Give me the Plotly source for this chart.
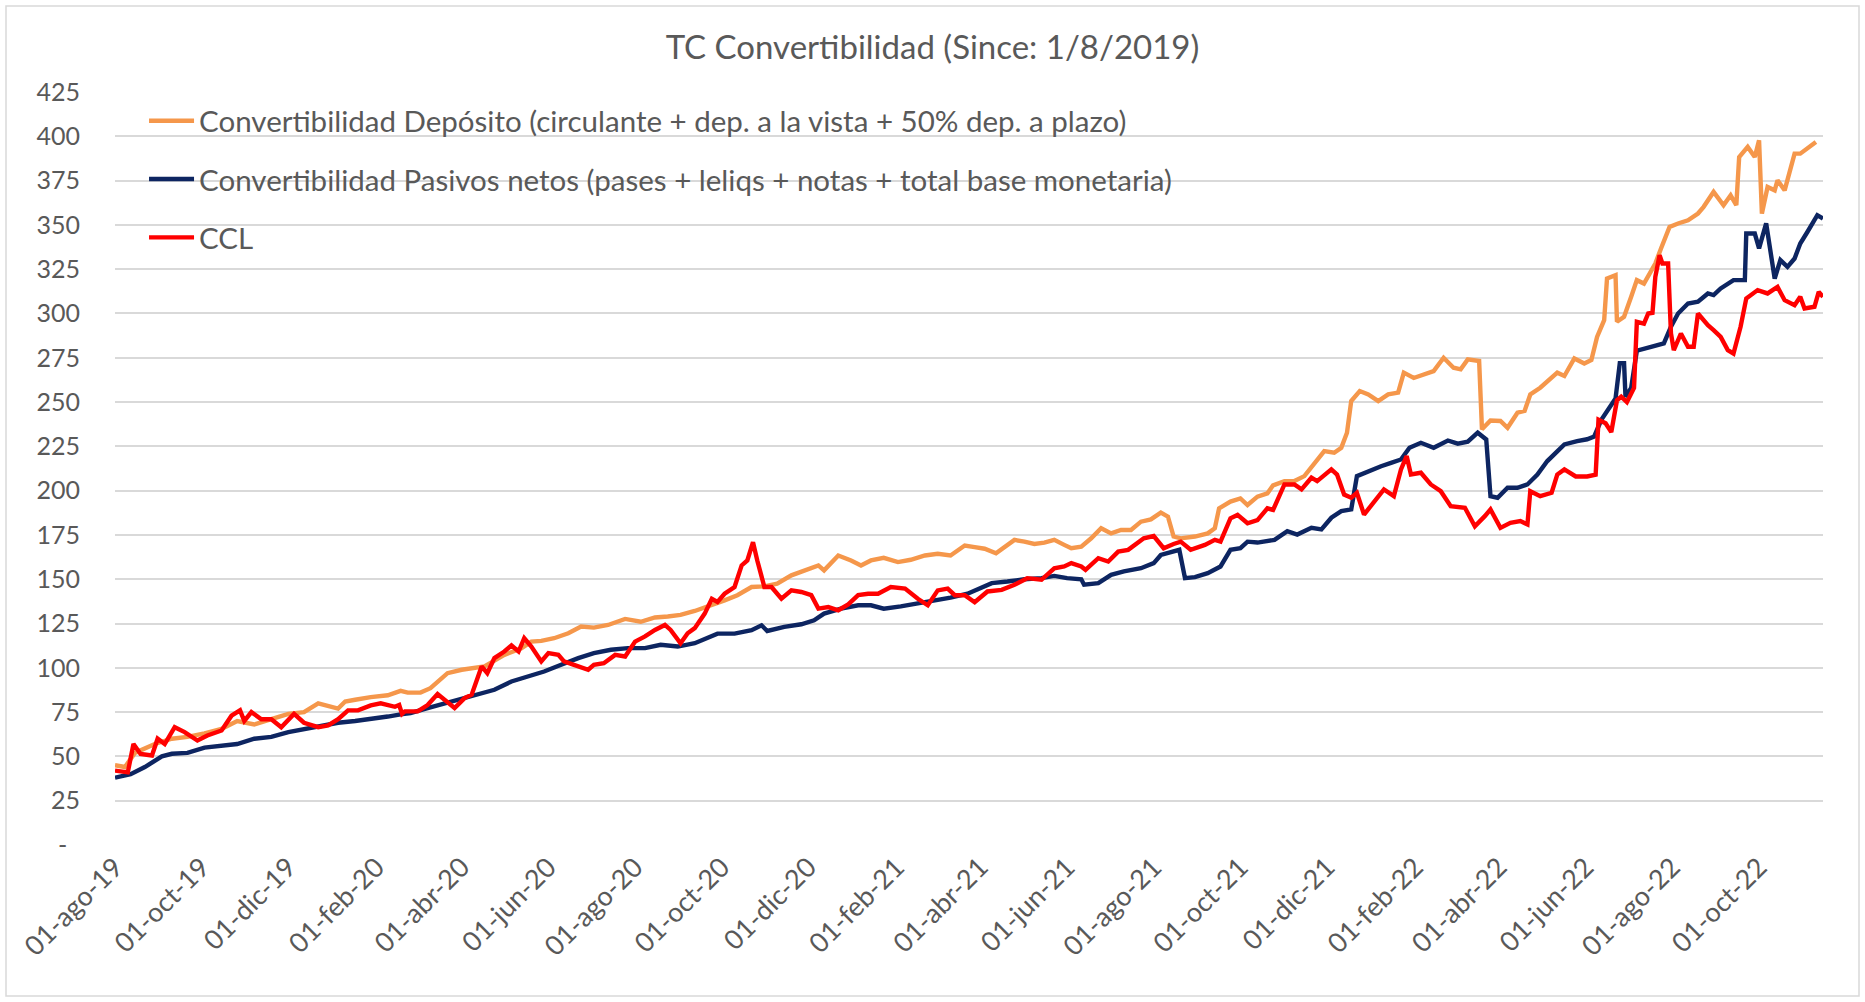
import plotly.graph_objects as go

# ---------------- data ----------------
dep_dates = [
    "2019-08-01", "2019-08-08", "2019-08-15", "2019-08-29", "2019-09-10", "2019-09-21", "2019-10-03",
    "2019-10-15", "2019-10-26", "2019-11-07", "2019-11-19", "2019-12-01", "2019-12-12", "2019-12-22",
    "2020-01-05", "2020-01-10", "2020-01-17", "2020-01-28", "2020-02-09", "2020-02-18", "2020-02-23",
    "2020-03-03", "2020-03-10", "2020-03-15", "2020-03-22", "2020-04-01", "2020-04-10", "2020-04-17",
    "2020-05-01", "2020-05-13", "2020-05-20", "2020-05-27", "2020-06-05", "2020-06-15", "2020-06-24",
    "2020-07-03", "2020-07-13", "2020-07-25", "2020-08-05", "2020-08-15", "2020-08-24", "2020-09-02",
    "2020-09-12", "2020-09-24", "2020-10-03", "2020-10-12", "2020-10-22", "2020-10-31", "2020-11-09",
    "2020-11-19", "2020-11-28", "2020-12-08", "2020-12-12", "2020-12-22", "2020-12-31", "2021-01-07",
    "2021-01-14", "2021-01-23", "2021-02-02", "2021-02-11", "2021-02-21", "2021-03-02", "2021-03-11",
    "2021-03-21", "2021-03-28", "2021-04-04", "2021-04-12", "2021-04-18", "2021-04-25", "2021-05-02",
    "2021-05-09", "2021-05-16", "2021-05-23", "2021-05-30", "2021-06-04", "2021-06-11", "2021-06-18",
    "2021-06-25", "2021-07-02", "2021-07-09", "2021-07-16", "2021-07-23", "2021-07-30", "2021-08-06",
    "2021-08-11", "2021-08-15", "2021-08-20", "2021-08-30", "2021-09-08", "2021-09-13", "2021-09-16",
    "2021-09-24", "2021-10-01", "2021-10-06", "2021-10-13", "2021-10-20", "2021-10-24", "2021-11-01",
    "2021-11-08", "2021-11-15", "2021-11-22", "2021-11-29", "2021-12-06", "2021-12-11", "2021-12-15",
    "2021-12-18", "2021-12-24", "2021-12-30", "2022-01-06", "2022-01-13", "2022-01-20", "2022-01-24",
    "2022-01-31", "2022-02-07", "2022-02-14", "2022-02-21", "2022-02-28", "2022-03-05", "2022-03-10",
    "2022-03-18", "2022-03-20", "2022-03-26", "2022-04-02", "2022-04-07", "2022-04-14", "2022-04-19",
    "2022-04-23", "2022-04-30", "2022-05-08", "2022-05-12", "2022-05-17", "2022-05-24", "2022-05-31",
    "2022-06-05", "2022-06-09", "2022-06-14", "2022-06-16", "2022-06-22", "2022-06-23", "2022-06-28",
    "2022-07-03", "2022-07-07", "2022-07-12", "2022-07-17", "2022-07-20", "2022-07-24", "2022-07-30",
    "2022-08-05", "2022-08-12", "2022-08-19", "2022-08-23", "2022-08-30", "2022-09-06", "2022-09-11",
    "2022-09-15", "2022-09-17", "2022-09-23", "2022-09-28", "2022-10-01", "2022-10-03", "2022-10-07",
    "2022-10-12", "2022-10-14", "2022-10-19", "2022-10-26", "2022-10-30", "2022-11-04", "2022-11-10",
]
dep_vals = [
    45, 44, 52, 57, 60, 61, 63,
    65.5, 70, 68, 71, 74, 75, 80,
    77, 81, 82, 83.5, 84.5, 87, 86,
    86, 88.5, 92.3, 97, 98.9, 99.8, 100.8,
    107.3, 111, 114.8, 115.2, 116.7, 119.5, 123.3,
    122.7, 124.2, 127.6, 126, 128.4, 129, 129.9,
    132.1, 135.3, 138.1, 141, 145.6, 146, 147.5,
    152.2, 155, 157.8, 155, 163.4, 160.6, 157.8,
    160.6, 162.1, 159.7, 161, 163.4, 164.4, 163.4,
    169, 168.1, 167.2, 164.7, 168.4, 172.2, 171.2,
    169.9, 170.7, 172.2, 169.4, 167.5, 168.4, 173.1,
    178.8, 175.9, 177.8, 177.8, 182.5, 183.8, 187.6,
    185.3, 174.1, 173.1, 174.1, 175.9, 178.8, 190,
    193.8, 195.6, 191.9, 196.6, 198.5, 203, 205.4,
    205.4, 208.2, 214.8, 222.3, 221.4, 224.2, 232.7,
    250.6, 256.2, 254.3, 250.6, 254.3, 255.3, 266.6,
    263.6, 265.6, 267.5, 275, 269.4, 268.5, 274.1,
    273.2, 234.6, 239.6, 239.3, 235.5, 244, 245,
    254.3, 258.1, 263.7, 266.6, 264.7, 274.6, 271.8,
    273.7, 286.8, 296.2, 319.7, 321.6, 295.3, 298.1,
    309.4, 318.8, 316.9, 323.5, 328.2, 336.7, 348.9,
    350.8, 352.6, 356.4, 360.2, 368.6, 361.1, 366.7,
    361.1, 388.3, 394, 388.3, 397.7, 356.4, 371.4,
    369.5, 375.2, 369.5, 390.2, 390.2, 393, 396.8,
]

pas_dates = [
    "2019-08-01", "2019-08-12", "2019-08-22", "2019-09-03", "2019-09-10", "2019-09-21", "2019-10-03",
    "2019-10-15", "2019-10-26", "2019-11-07", "2019-11-19", "2019-12-01", "2019-12-12", "2019-12-24",
    "2020-01-05", "2020-01-17", "2020-01-28", "2020-02-09", "2020-02-18", "2020-02-25", "2020-03-08",
    "2020-03-20", "2020-04-01", "2020-04-12", "2020-04-24", "2020-05-06", "2020-05-18", "2020-05-29",
    "2020-06-10", "2020-06-22", "2020-07-03", "2020-07-15", "2020-07-27", "2020-08-08", "2020-08-19",
    "2020-08-31", "2020-09-12", "2020-09-17", "2020-09-28", "2020-10-10", "2020-10-22", "2020-10-29",
    "2020-11-02", "2020-11-14", "2020-11-26", "2020-12-05", "2020-12-12", "2020-12-24", "2021-01-05",
    "2021-01-14", "2021-01-23", "2021-02-04", "2021-02-16", "2021-02-28", "2021-03-11", "2021-03-23",
    "2021-04-04", "2021-04-09", "2021-04-20", "2021-05-02", "2021-05-14", "2021-05-23", "2021-06-01",
    "2021-06-11", "2021-06-13", "2021-06-23", "2021-07-02", "2021-07-11", "2021-07-23", "2021-08-01",
    "2021-08-06", "2021-08-13", "2021-08-19", "2021-08-23", "2021-08-30", "2021-09-08", "2021-09-17",
    "2021-09-24", "2021-10-01", "2021-10-06", "2021-10-13", "2021-10-25", "2021-10-27", "2021-11-03",
    "2021-11-10", "2021-11-20", "2021-11-27", "2021-12-04", "2021-12-11", "2021-12-18", "2021-12-22",
    "2021-12-30", "2022-01-08", "2022-01-15", "2022-01-22", "2022-01-28", "2022-02-05", "2022-02-14",
    "2022-02-24", "2022-03-03", "2022-03-10", "2022-03-17", "2022-03-23", "2022-03-26", "2022-03-31",
    "2022-04-07", "2022-04-14", "2022-04-21", "2022-04-28", "2022-05-05", "2022-05-12", "2022-05-17",
    "2022-05-26", "2022-06-02", "2022-06-07", "2022-06-12", "2022-06-22", "2022-06-25", "2022-06-28",
    "2022-06-29", "2022-07-03", "2022-07-07", "2022-07-17", "2022-07-26", "2022-07-31", "2022-08-05",
    "2022-08-12", "2022-08-19", "2022-08-26", "2022-08-30", "2022-09-04", "2022-09-13", "2022-09-21",
    "2022-09-22", "2022-09-28", "2022-10-01", "2022-10-06", "2022-10-12", "2022-10-16", "2022-10-21",
    "2022-10-26", "2022-10-30", "2022-11-04", "2022-11-11", "2022-11-15",
]
pas_vals = [
    38, 40, 44, 50, 51.5, 52, 55,
    56, 57, 60, 61, 63.7, 65.5, 67.5,
    69, 70, 71, 72.5, 73.7, 74.5, 77.3,
    80, 82.9, 85.2, 87.6, 92.3, 95.1, 97.9,
    101.7, 105.5, 108.3, 110.2, 111.1, 111.1, 113,
    112, 113.9, 115.6, 119.3, 119.3, 121.2, 124,
    120.8, 123.1, 124.6, 126.8, 130.6, 133.4, 135.3,
    135.3, 133.4, 134.7, 136.2, 138.1, 139.6, 141.8,
    146, 147.8, 148.7, 150, 150.6, 151.9, 150.6,
    150, 146.9, 147.8, 152.5, 154.4, 156.2, 159.1,
    163.7, 165.6, 166.6, 150.6, 151.2, 153.4, 157.2,
    166.6, 167.5, 171.2, 170.7, 172.2, 173.4, 177.1,
    175.2, 179, 178.1, 184.7, 188.4, 189.4, 208.2,
    211, 213.8, 215.7, 217.6, 224.2, 227, 224.2,
    228.3, 226.5, 227.6, 232.7, 228.9, 196.9, 196,
    201.6, 201.6, 203.5, 209.1, 216.7, 222.3, 226.1,
    228, 229, 230.6, 240, 252, 272, 272,
    253, 258, 279, 281.2, 283.1, 292.5, 300,
    305.6, 306.6, 311.3, 310.4, 314.1, 318.8, 318.8,
    345.1, 345.1, 336.7, 350.8, 319.7, 330.1, 326.3,
    331, 339.5, 346, 355.5, 353.6,
]

ccl_dates = [
    "2019-08-01", "2019-08-10", "2019-08-14", "2019-08-19", "2019-08-27", "2019-08-31", "2019-09-05",
    "2019-09-12", "2019-09-19", "2019-09-28", "2019-10-05", "2019-10-15", "2019-10-22", "2019-10-28",
    "2019-10-31", "2019-11-05", "2019-11-12", "2019-11-19", "2019-11-26", "2019-12-05", "2019-12-12",
    "2019-12-22", "2019-12-29", "2020-01-05", "2020-01-12", "2020-01-19", "2020-01-28", "2020-02-04",
    "2020-02-14", "2020-02-17", "2020-02-19", "2020-02-21", "2020-03-01", "2020-03-08", "2020-03-15",
    "2020-03-22", "2020-03-27", "2020-04-03", "2020-04-08", "2020-04-15", "2020-04-19", "2020-04-24",
    "2020-05-01", "2020-05-06", "2020-05-11", "2020-05-15", "2020-05-20", "2020-05-27", "2020-06-01",
    "2020-06-08", "2020-06-12", "2020-06-19", "2020-06-29", "2020-07-03", "2020-07-10", "2020-07-18",
    "2020-07-25", "2020-08-01", "2020-08-08", "2020-08-15", "2020-08-22", "2020-08-26", "2020-09-02",
    "2020-09-07", "2020-09-12", "2020-09-19", "2020-09-24", "2020-09-28", "2020-10-03", "2020-10-10",
    "2020-10-15", "2020-10-19", "2020-10-23", "2020-10-26", "2020-10-31", "2020-11-05", "2020-11-12",
    "2020-11-19", "2020-11-26", "2020-12-03", "2020-12-08", "2020-12-15", "2020-12-22", "2020-12-29",
    "2021-01-05", "2021-01-12", "2021-01-19", "2021-01-28", "2021-02-07", "2021-02-16", "2021-02-23",
    "2021-03-02", "2021-03-09", "2021-03-14", "2021-03-21", "2021-03-28", "2021-04-06", "2021-04-16",
    "2021-04-25", "2021-05-04", "2021-05-14", "2021-05-23", "2021-05-30", "2021-06-04", "2021-06-11",
    "2021-06-14", "2021-06-23", "2021-06-30", "2021-07-07", "2021-07-14", "2021-07-21", "2021-07-25",
    "2021-08-01", "2021-08-08", "2021-08-15", "2021-08-20", "2021-08-27", "2021-09-06", "2021-09-13",
    "2021-09-17", "2021-09-24", "2021-09-29", "2021-10-06", "2021-10-13", "2021-10-20", "2021-10-24",
    "2021-11-01", "2021-11-08", "2021-11-13", "2021-11-20", "2021-11-24", "2021-11-29", "2021-12-04",
    "2021-12-08", "2021-12-13", "2021-12-18", "2021-12-22", "2021-12-27", "2022-01-03", "2022-01-10",
    "2022-01-17", "2022-01-22", "2022-01-26", "2022-01-29", "2022-02-05", "2022-02-12", "2022-02-19",
    "2022-02-26", "2022-03-08", "2022-03-15", "2022-03-22", "2022-03-26", "2022-04-02", "2022-04-09",
    "2022-04-16", "2022-04-21", "2022-04-23", "2022-04-30", "2022-05-08", "2022-05-12", "2022-05-17",
    "2022-05-25", "2022-06-02", "2022-06-08", "2022-06-10", "2022-06-15", "2022-06-19", "2022-06-23",
    "2022-06-26", "2022-06-30", "2022-07-05", "2022-07-07", "2022-07-12", "2022-07-15", "2022-07-18",
    "2022-07-20", "2022-07-23", "2022-07-25", "2022-07-29", "2022-07-31", "2022-08-02", "2022-08-07",
    "2022-08-12", "2022-08-16", "2022-08-19", "2022-08-26", "2022-08-30", "2022-09-04", "2022-09-09",
    "2022-09-13", "2022-09-18", "2022-09-22", "2022-09-30", "2022-10-07", "2022-10-14", "2022-10-19",
    "2022-10-26", "2022-10-30", "2022-11-02", "2022-11-09", "2022-11-12", "2022-11-15",
]
ccl_vals = [
    42, 41, 57, 51.4, 50.5, 60, 57,
    66.5, 63.7, 59, 61.8, 64.6, 73, 76,
    70, 75, 71, 71, 66.5, 74, 69,
    66.5, 67.5, 71, 76, 76, 78.8, 80,
    78, 79, 74, 75.4, 75.4, 79, 85.2,
    81, 77.3, 82.9, 84.8, 100.8, 97, 105.5,
    109.2, 112.6, 109.2, 116.7, 112, 103.6, 108.3,
    107.3, 103.6, 101.7, 98.9, 101.7, 102.6, 107.3,
    106.4, 114.8, 117.7, 121.4, 124.2, 121.4, 113.9,
    119.5, 122.4, 130.6, 139, 137.2, 141.8, 145.6,
    157.8, 160.6, 170.9, 160.6, 145.6, 145.6, 139,
    143.7, 142.8, 141, 133.4, 134.3, 132.5, 135.8,
    141, 141.8, 141.8, 145.6, 144.7, 139, 135.3,
    143.7, 144.7, 141, 141, 137, 143.1, 144,
    146.9, 150.6, 149.7, 156.2, 157.2, 159.1, 157.2,
    155.3, 161.9, 160, 165.6, 166.6, 171.2, 173.1,
    174.4, 167.5, 169.9, 171.2, 166.6, 169.4, 172.2,
    171.2, 184.4, 186.3, 181.6, 183.4, 190, 189.1,
    203.5, 203.5, 200.7, 207.3, 205.4, 209.1, 212,
    209.1, 197.8, 196, 198.8, 186.5, 194.1, 200.7,
    196.9, 212, 219.5, 209.1, 210.1, 203.5, 199.7,
    191.2, 190.3, 179.9, 185.6, 189.4, 179, 181.8,
    182.8, 180.9, 199.7, 196.9, 198.8, 209.1, 212,
    208, 208, 209, 240, 238, 233, 251,
    253, 250, 258, 295.3, 294.3, 300, 300.4,
    320.7, 332.9, 328.2, 328.2, 288.7, 279.3, 288.7,
    281.2, 281.2, 300, 293.4, 290.6, 286.8, 279.3,
    277.4, 292.5, 308.5, 313.2, 311.3, 315, 307.5,
    304.7, 309.4, 302.8, 303.8, 312.2, 309.4,
]

series_names = [
    "Convertibilidad Depósito (circulante + dep. a la vista + 50% dep. a plazo)",
    "Convertibilidad Pasivos netos (pases + leliqs + notas + total base monetaria)",
    "CCL",
]

x_tick_dates = [
    "2019-08-01", "2019-10-01", "2019-12-01", "2020-02-01", "2020-04-01", "2020-06-01", "2020-08-01",
    "2020-10-01", "2020-12-01", "2021-02-01", "2021-04-01", "2021-06-01", "2021-08-01", "2021-10-01",
    "2021-12-01", "2022-02-01", "2022-04-01", "2022-06-01", "2022-08-01", "2022-10-01",
]
x_tick_labels = [
    "01-ago-19", "01-oct-19", "01-dic-19", "01-feb-20", "01-abr-20", "01-jun-20", "01-ago-20",
    "01-oct-20", "01-dic-20", "01-feb-21", "01-abr-21", "01-jun-21", "01-ago-21", "01-oct-21",
    "01-dic-21", "01-feb-22", "01-abr-22", "01-jun-22", "01-ago-22", "01-oct-22",
]
y_tick_vals = [0, 25, 50, 75, 100, 125, 150, 175, 200, 225, 250, 275, 300, 325, 350, 375, 400, 425]
y_tick_labels = ["-\u00a0\u00a0", "25", "50", "75", "100", "125", "150", "175", "200", "225", "250",
                 "275", "300", "325", "350", "375", "400", "425"]

x_range = ["2019-08-01", "2022-11-15"]
title_text = "TC Convertibilidad (Since: 1/8/2019)"

# ---------------- styling ----------------
W, H = 1865, 1002
ML, MR, MT, MB = 115, 42, 92, 157
FONT = "Lato, 'Open Sans', sans-serif"
GREY = "#595959"
colors = ["#F5974B", "#0D2561", "#FF0000"]

fig = go.Figure()
for i, (xs, ys) in enumerate([(dep_dates, dep_vals), (pas_dates, pas_vals), (ccl_dates, ccl_vals)]):
    fig.add_trace(go.Scatter(
        x=xs, y=ys, mode="lines", name=series_names[i], legendgroup=f"g{i}",
        line=dict(color=colors[i], width=4.4),
    ))

pw, ph = W - ML - MR, H - MT - MB
inset = 6
fig.add_shape(
    type="rect", xref="paper", yref="paper", layer="below",
    x0=(inset - ML) / pw, x1=(W - inset - ML) / pw,
    y0=-(H - inset - (H - MB)) / ph, y1=(H - MB - inset) / ph,
    line=dict(color="#D9D9D9", width=1.5), fillcolor="rgba(0,0,0,0)",
)

fig.update_layout(
    width=W, height=H, autosize=False,
    margin=dict(l=ML, r=MR, t=MT, b=MB, pad=0),
    paper_bgcolor="white", plot_bgcolor="white",
    font=dict(family=FONT, color=GREY, size=25),
    title=dict(text=title_text, x=0.5, xanchor="center", y=1 - 47 / H, yanchor="middle",
               font=dict(family=FONT, size=33, color=GREY)),
    showlegend=True,
    legend=dict(x=0.017, y=0.996, xanchor="left", yanchor="top", bgcolor="rgba(0,0,0,0)",
                font=dict(family=FONT, size=29.5, color=GREY), tracegroupgap=17,
                itemwidth=45, traceorder="grouped"),
    xaxis=dict(type="date", range=x_range, tickmode="array", tickvals=x_tick_dates,
               ticktext=x_tick_labels, tickangle=-45, showgrid=False, zeroline=False,
               showline=False, ticks="", tickfont=dict(size=27, color=GREY)),
    yaxis=dict(range=[0, 425], tickmode="array", tickvals=y_tick_vals, ticktext=y_tick_labels,
               showgrid=True, gridcolor="#D9D9D9", gridwidth=2, zeroline=False, showline=False,
               ticks="", ticklabelstandoff=34, tickfont=dict(size=25, color=GREY)),
    hovermode=False,
)

fig.write_html("out.html", config={"displayModeBar": False},
               post_script="document.body.style.margin='0';document.body.style.overflow='hidden';")
